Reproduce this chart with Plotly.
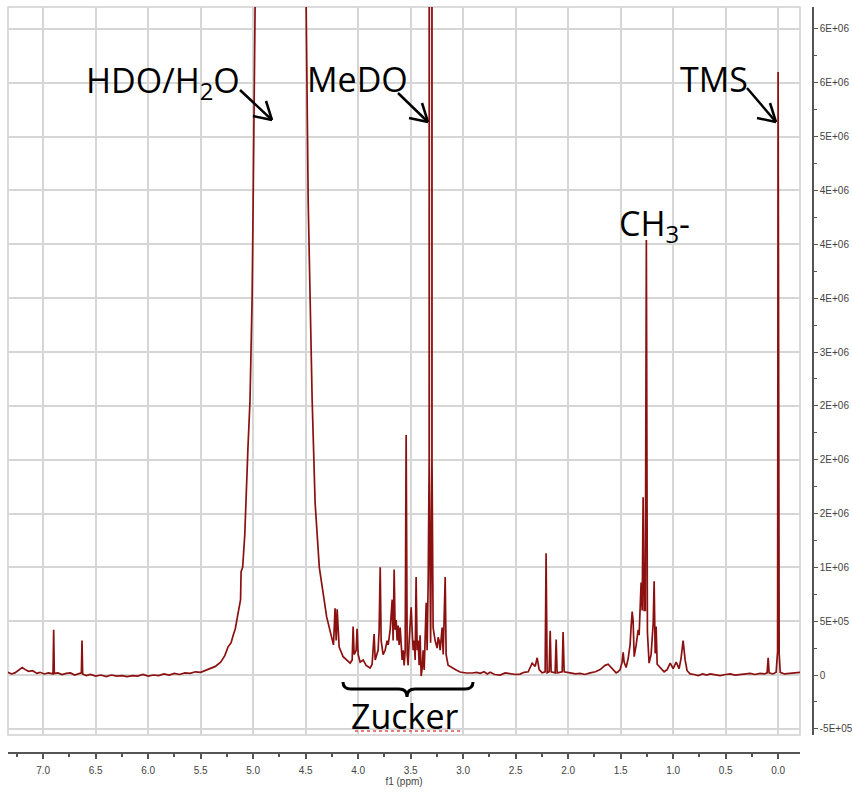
import plotly.graph_objects as go

# ---------------- data (ppm, intensity) ----------------
left_ppm = [7.335, 7.30, 7.27, 7.24, 7.20, 7.17, 7.14, 7.10, 7.06, 7.03, 6.99, 6.95,
            6.906, 6.900, 6.894, 6.86, 6.82, 6.78, 6.74, 6.70, 6.66,
            6.636, 6.630, 6.624, 6.59, 6.55, 6.50, 6.45, 6.40, 6.35, 6.30, 6.25,
            6.20, 6.15, 6.10, 6.05, 6.00, 5.95, 5.90, 5.85, 5.80, 5.75, 5.70,
            5.65, 5.60, 5.55, 5.50, 5.45, 5.41, 5.36, 5.31, 5.27, 5.24, 5.21,
            5.19, 5.17, 5.15, 5.13, 5.12]
left_int = [2.5e4, 1.0e4, 2.0e4, 4.5e4, 7.0e4, 5.0e4, 3.5e4, 4.0e4, 1.5e4, 2.5e4, 1.0e4, 2.0e4,
            1.0e4, 4.2e5, 1.5e4, 2.0e4, 5.0e3, 1.5e4, 2.0e4, 0.0, 1.0e4,
            2.0e4, 3.2e5, 1.0e4, -5e3, 5e3, -1e4, 0.0, -1.5e4, 0.0, -1e4, -5e3,
            -1.5e4, -5e3, -1e4, 5e3, -1e4, 0.0, -5e3, 1e4, 0.0, 1.5e4, 5e3,
            2e4, 1.5e4, 3e4, 2.5e4, 4.5e4, 6.5e4, 8e4, 1.2e5, 1.8e5, 2.6e5, 3.0e5,
            3.7e5, 4.3e5, 5.4e5, 6.3e5, 7.0e5]

water_ppm = [5.115, 5.10, 5.08, 5.07, 5.05, 5.03, 5.01, 5.00, 4.99, 4.98, 4.96,
             4.74, 4.52, 4.495, 4.476, 4.457, 4.438, 4.41, 4.37, 4.30, 4.25, 4.235]
water_int = [9.6e5, 1.0e6, 1.3e6, 1.6e6, 2.1e6, 2.55e6, 3.5e6, 4.4e6, 5.3e6, 6.2e6, 1.0e7,
             3.0e7, 1.0e7, 6.2e6, 4.4e6, 3.5e6, 2.55e6, 1.6e6, 1.0e6, 5.4e5, 3.25e5, 2.8e5]

sugar_ppm = [4.22, 4.209, 4.20, 4.181, 4.143, 4.076, 4.057, 4.048, 4.038, 4.019, 4.010,
             4.0, 3.981, 3.952, 3.924, 3.886, 3.867, 3.848, 3.838, 3.819, 3.81, 3.80,
             3.79, 3.781, 3.762, 3.743, 3.724, 3.714, 3.695, 3.676, 3.667, 3.657,
             3.648, 3.638, 3.629, 3.619, 3.61, 3.60, 3.591, 3.581, 3.571, 3.562,
             3.552, 3.543, 3.533, 3.524, 3.514, 3.495, 3.486, 3.476, 3.467, 3.457,
             3.448, 3.438, 3.429, 3.419, 3.41, 3.40, 3.39, 3.381, 3.371, 3.352,
             3.343, 3.333]
sugar_int = [6.2e5, 3.2e5, 6.1e5, 2.6e5, 1.7e5, 1.1e5, 1.4e5, 4.5e5, 1.9e5, 2.3e5, 4.3e5,
             1.9e5, 1.2e5, 1.4e5, 9e4, 6.5e4, 1.0e5, 3.8e5, 1.4e5, 1.9e5, 2.3e5, 4.2e5,
             1.0e6, 3.2e5, 1.9e5, 2.3e5, 3.2e5, 2.8e5, 4.2e5, 7.0e5, 3.2e5, 9.8e5,
             4.2e5, 5.1e5, 3.2e5, 4.6e5, 2.8e5, 4.4e5, 2.3e5, 1.4e5, 2.3e5, 9e4,
             2.3e5, 2.23e6, 1.9e5, 9e4, 3.2e5, 6.3e5, 4.2e5, 2.3e5, 3.2e5, 1.4e5,
             9.1e5, 2.3e5, 3.2e5, 9e4, 3.7e5, -1e4, 6.5e4, 2.3e5, 4.6e4, 6.7e5,
             2.3e5, 8.8e5]

medo_ppm = [3.3235, 3.3230, 3.3225, 3.31, 3.2975, 3.2970, 3.2965, 3.286, 3.267, 3.248,
            3.238, 3.229, 3.219, 3.20, 3.19, 3.171, 3.162, 3.143, 3.105, 3.067, 3.029,
            2.971, 2.914]
medo_int = [2.0e6, 1.6e7, 2.0e6, 3.0e5, 2.0e6, 1.6e7, 2.0e6, 4.4e5, 3.2e5, 2.5e5,
            3.5e5, 3.2e5, 2.3e5, 4.4e5, 1.9e5, 9.1e5, 1.9e5, 9e4, 6.5e4, 4.6e4, 2.8e4,
            1.9e4, 1.9e4]

mid_ppm = [2.87, 2.838, 2.80, 2.77, 2.743, 2.70, 2.648, 2.60, 2.552, 2.50, 2.457, 2.42,
           2.38, 2.343, 2.314, 2.295, 2.276, 2.248, 2.219, 2.21, 2.20, 2.181, 2.171,
           2.162, 2.124, 2.114, 2.105, 2.057, 2.048, 2.038, 1.981, 1.93, 1.886, 1.84,
           1.79, 1.74, 1.695, 1.648, 1.619, 1.58, 1.543]
mid_int = [2.5e4, 1.5e4, 3e4, 1e4, 2.5e4, 5e3, 0.0, 2e4, 1.5e4, 5e3, 9e3, 2.5e4,
           3e4, 1.1e5, 8e4, 1.6e5, 5e4, 2e4, 3e4, 1.13e6, 2e4, 3e4, 4.1e5,
           3e4, 2e4, 3.3e5, 2e4, 3e4, 4.0e5, 3e4, 2e4, 1e4, 1.5e4, 5e3,
           2e4, 3e4, 5e4, 9e4, 1.0e5, 6e4, 2e4]

methyl_ppm = [1.524, 1.505, 1.486, 1.476, 1.467, 1.448, 1.429, 1.41, 1.40, 1.39, 1.381,
              1.371, 1.352, 1.333, 1.324, 1.314, 1.305, 1.295, 1.286, 1.276, 1.265,
              1.255, 1.245, 1.229, 1.21, 1.19, 1.181, 1.171, 1.162, 1.152, 1.124,
              1.086, 1.057, 1.028, 1.0, 0.971, 0.943, 0.924, 0.905, 0.895, 0.886,
              0.867, 0.838]
methyl_int = [3e4, 5e4, 1.2e5, 2.1e5, 1.2e5, 7e4, 1.5e5, 2.8e5, 4.5e5, 5.9e5, 5.0e5,
              1.7e5, 2.8e5, 4.2e5, 3.7e5, 6.5e5, 8.6e5, 6e5, 1.65e6, 6e5, 6e5,
              4.04e6, 4e5, 1.1e5, 1.9e5, 4.8e5, 8.7e5, 2.0e5, 4.5e5, 1e5, 7e4,
              3e4, 5e4, 1.1e5, 6e4, 1.2e5, 6e4, 1.6e5, 3.2e5, 2.3e5, 1.4e5,
              4e4, 1e4]

tms_ppm = [0.80, 0.76, 0.72, 0.68, 0.648, 0.60, 0.552, 0.50, 0.457, 0.41, 0.362, 0.32,
           0.267, 0.22, 0.171, 0.13, 0.105, 0.095, 0.086, 0.05, 0.019, 0.005, 0.0,
           -0.01, -0.02, -0.06, -0.115, -0.16, -0.21]
tms_int = [5e3, -5e3, 1e4, 0.0, 1.0e4, 5e3, -5e3, 5e3, 1e4, 0.0, 5e3, 1.5e4,
           1.5e4, 5e3, 1.5e4, 1e4, 2e4, 1.6e5, 2e4, 1e4, 2.5e4, 2.2e5, 5.6e6,
           2e5, 2.5e4, 1e4, 1.5e4, 2e4, 2.5e4]

y_tickvals = [-5e5, 0, 5e5, 1e6, 1.5e6, 2e6, 2.5e6, 3e6, 3.5e6, 4e6, 4.5e6, 5e6, 5.5e6, 6e6]
y_ticktext = ["-5E+05", "0", "5E+05", "1E+06", "2E+06", "2E+06", "2E+06", "3E+06",
              "4E+06", "4E+06", "4E+06", "5E+06", "6E+06", "6E+06"]

# ---------------- build ----------------
ppm = left_ppm + water_ppm + sugar_ppm + medo_ppm + mid_ppm + methyl_ppm + tms_ppm
inten = left_int + water_int + sugar_int + medo_int + mid_int + methyl_int + tms_int

W, H = 852, 793
ML, MR, MT, MB = 8, 39, 7, 40
PW, PH = W - ML - MR, H - MT - MB


def px(x):
    return (x - ML) / PW


def py(y):
    return (H - MB - y) / PH


fig = go.Figure()
fig.add_trace(go.Scatter(x=ppm, y=inten, mode="lines",
                         line=dict(color="#8b1010", width=1.7), hoverinfo="skip",
                         showlegend=False))

xdom_end = px(800)
ydom_start = py(735)

tickfont = dict(family="Liberation Sans", size=10, color="#444444")
fig.update_layout(
    width=W, height=H,
    margin=dict(l=ML, r=MR, t=MT, b=MB, pad=0, autoexpand=False),
    paper_bgcolor="white", plot_bgcolor="white",
    xaxis=dict(domain=[0, xdom_end], range=[7.335, -0.2083], anchor="free", position=0,
               automargin=False, ticklabelstandoff=3,
               tick0=0, dtick=0.5, tickformat=".1f", showline=True, linecolor="#555555",
               linewidth=1.5, ticks="outside", ticklen=5, tickcolor="#555555", tickwidth=1.5,
               showgrid=True, gridcolor="#d6d6d6", gridwidth=1.5, zeroline=False,
               tickfont=tickfont,
               minor=dict(ticks="outside", ticklen=3, tick0=0, dtick=0.25,
                          tickcolor="#555555", tickwidth=1.5, showgrid=False),
               title=dict(text="f1 (ppm)", font=dict(family="Liberation Sans", size=10,
                                                     color="#444444"), standoff=2)),
    yaxis=dict(domain=[ydom_start, 1], range=[-5.57e5, 6.204e6], side="right",
               anchor="free", position=1, automargin=False,
               tickmode="array", tickvals=y_tickvals,
               ticktext=y_ticktext, showline=True, linecolor="#555555", linewidth=1.5,
               ticks="outside", ticklen=4, tickcolor="#555555", tickwidth=1.2,
               showgrid=True, gridcolor="#d6d6d6", gridwidth=1.5, zeroline=False,
               tickfont=tickfont,
               minor=dict(ticks="outside", ticklen=3, tickcolor="#555555",
                          tickvals=[(a + b) / 2 for a, b in zip(y_tickvals[:-1], y_tickvals[1:])],
                          showgrid=False)),
)

shapes = []
# plot frame
shapes.append(dict(type="rect", xref="paper", yref="paper", x0=0, x1=xdom_end,
                   y0=ydom_start, y1=1, line=dict(color="#d0d0d0", width=1.5),
                   layer="below"))


def seg(x0, y0, x1, y1, w=2.5, color="black", dash=None):
    d = dict(type="line", xref="paper", yref="paper", x0=px(x0), y0=py(y0),
             x1=px(x1), y1=py(y1), line=dict(color=color, width=w))
    if dash:
        d["line"]["dash"] = dash
    return d


def arrow(x0, y0, x1, y1):
    return [seg(x0, y0, x1, y1), seg(x1, y1, x1 - 19, y1 - 4), seg(x1, y1, x1 - 6, y1 - 19)]


shapes += arrow(240, 90, 272, 120)
shapes += arrow(398, 93, 428, 122)
shapes += arrow(747, 88, 776, 122)


def P(x, y):
    return f"{px(x):.5f},{py(y):.5f}"


brace = (f"M {P(343, 682)} Q {P(343, 689)} {P(351, 689)} L {P(399, 689)} "
         f"Q {P(407, 689)} {P(407, 697)} Q {P(407, 689)} {P(415, 689)} "
         f"L {P(465, 689)} Q {P(473, 689)} {P(473, 682)}")
shapes.append(dict(type="path", xref="paper", yref="paper", path=brace,
                   line=dict(color="black", width=3)))
shapes.append(seg(355, 731, 460, 731, w=1.5, color="#e05050", dash="dot"))

fig.update_layout(shapes=shapes)

lab_font = dict(family="Open Sans", size=34, color="black")


def label(text, x, y):
    return dict(text=text, x=px(x), y=py(y), xref="paper", yref="paper",
                xanchor="left", yanchor="middle", showarrow=False, font=lab_font)


fig.update_layout(annotations=[
    label("HDO/H<sub>2</sub>O", 84, 82),
    label("MeDO", 305, 79),
    label("TMS", 678, 79),
    label("CH<sub>3</sub>-", 617, 225),
    label("Zucker", 349, 716),
])

fig.write_html("out.html")
